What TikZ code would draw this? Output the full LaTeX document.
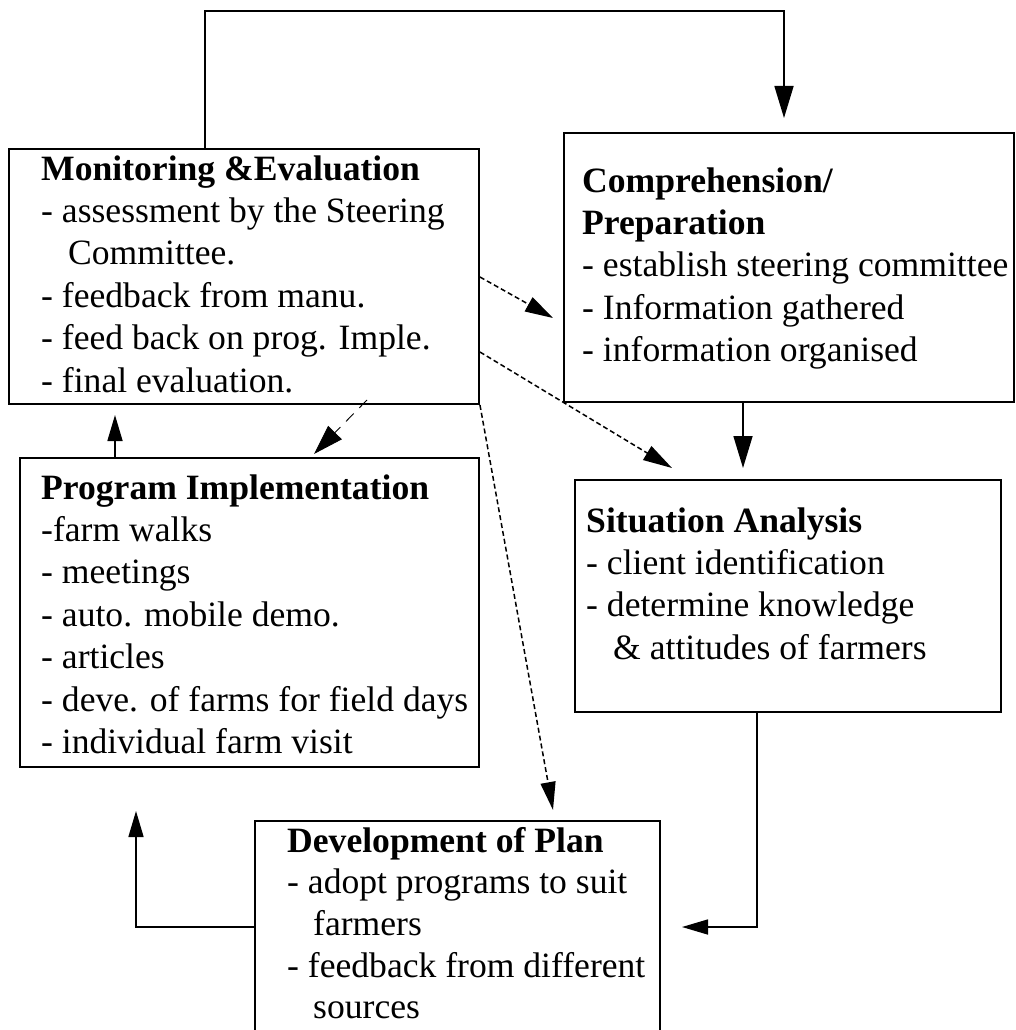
\documentclass[tikz,border=0pt]{standalone}
\usepackage{fontspec}
\setmainfont{Liberation Serif}
\usetikzlibrary{arrows.meta}
\tikzset{
  box/.style={draw, line width=1.9pt, rectangle, inner sep=0pt},
  txt/.style={anchor=north west, inner sep=0pt, align=left, font=\fontsize{35.6pt}{42.4pt}\selectfont},
  conn/.style={line width=1.6pt},
  bigtip/.style={-{Triangle[length=32pt,width=19pt]}},
  smalltip/.style={-{Triangle[length=26pt,width=15pt]}},
  dotline/.style={line width=1.5pt, dash pattern=on 5pt off 3pt},
  longdash/.style={line width=0.9pt, dash pattern=on 11pt off 8pt},
}
\begin{document}
\begin{tikzpicture}[x=1pt,y=-1pt]
\useasboundingbox (0,0) rectangle (1015,1030);
\clip (0,0) rectangle (1015,1030);
\fill[white] (0,0) rectangle (1015,1030);

% boxes
\node[box, minimum width=470pt, minimum height=255pt] (me) at (244,276.5) {};
\node[box, minimum width=450pt, minimum height=269pt] (comp) at (789,267.5) {};
\node[box, minimum width=426pt, minimum height=232pt] (sa) at (788,596) {};
\node[box, minimum width=459pt, minimum height=309pt] (prog) at (249.5,612.5) {};
\node[box, minimum width=405pt, minimum height=230pt] (plan) at (457.5,936) {};

% texts
\node[txt] (meT) at (41,150.3) {\strut\textbf{Monitoring \&Evaluation}\\
- assessment by the Steering\\
\hspace*{27pt}Committee.\\
- feedback from manu.\\
- feed back on prog. Imple.\\
- final evaluation.};
\node[txt] (compT) at (582,162.3) {\strut\textbf{Comprehension/}\\
\textbf{Preparation}\\
- establish steering committee\\
- Information gathered\\
- information organised};
\node[txt] (saT) at (586,502.3) {\strut\textbf{Situation Analysis}\\
- client identification\\
- determine knowledge\\
\hspace*{27pt}\& attitudes of farmers};
\node[txt] (progT) at (41,469.3) {\strut\textbf{Program Implementation}\\
-farm walks\\
- meetings\\
- auto. mobile demo.\\
- articles\\
- deve. of farms for field days\\
- individual farm visit};
\node[txt, font=\fontsize{35.6pt}{41.6pt}\selectfont] (planT) at (287,822.9) {\strut\textbf{Development of Plan}\\
- adopt programs to suit\\
\hspace*{26pt}farmers\\
- feedback from different\\
\hspace*{26pt}sources};

% named points
\coordinate (c1) at (205,11);
\coordinate (t1) at (784,118);
\coordinate (t2) at (743,468);
\coordinate (c3) at (757,927);
\coordinate (t3) at (682,927);
\coordinate (c4) at (136,927);
\coordinate (t4) at (136,811);
\coordinate (t5) at (115,415);
\coordinate (s6) at (367,400);
\coordinate (t6) at (314,454);
\coordinate (s7) at (479,277);
\coordinate (t7) at (553,318);
\coordinate (s8) at (479,352);
\coordinate (t8) at (672,468);
\coordinate (t9) at (553,810);

% solid connectors
\draw[conn, bigtip] (me.north -| c1) -- (c1) -| (t1);
\draw[conn, bigtip] (comp.south -| t2) -- (t2);
\draw[conn, smalltip] (sa.south -| c3) -- (c3) -- (t3);
\draw[conn, smalltip] (plan.west |- c4) -- (c4) -- (t4);
\draw[conn, smalltip] (prog.north -| t5) -- (t5);

% dashed / dotted connectors
\draw[longdash, -{Triangle[length=30pt,width=19pt]}] (s6) -- (t6);
\draw[dotline, -{Triangle[length=28pt,width=16pt]}] (me.east |- s7) -- (t7);
\draw[dotline, -{Triangle[length=29pt,width=16pt]}] (me.east |- s8) -- (t8);
\draw[dotline, -{Triangle[length=28pt,width=15pt]}] (me.south east) -- (t9);
\end{tikzpicture}
\end{document}
